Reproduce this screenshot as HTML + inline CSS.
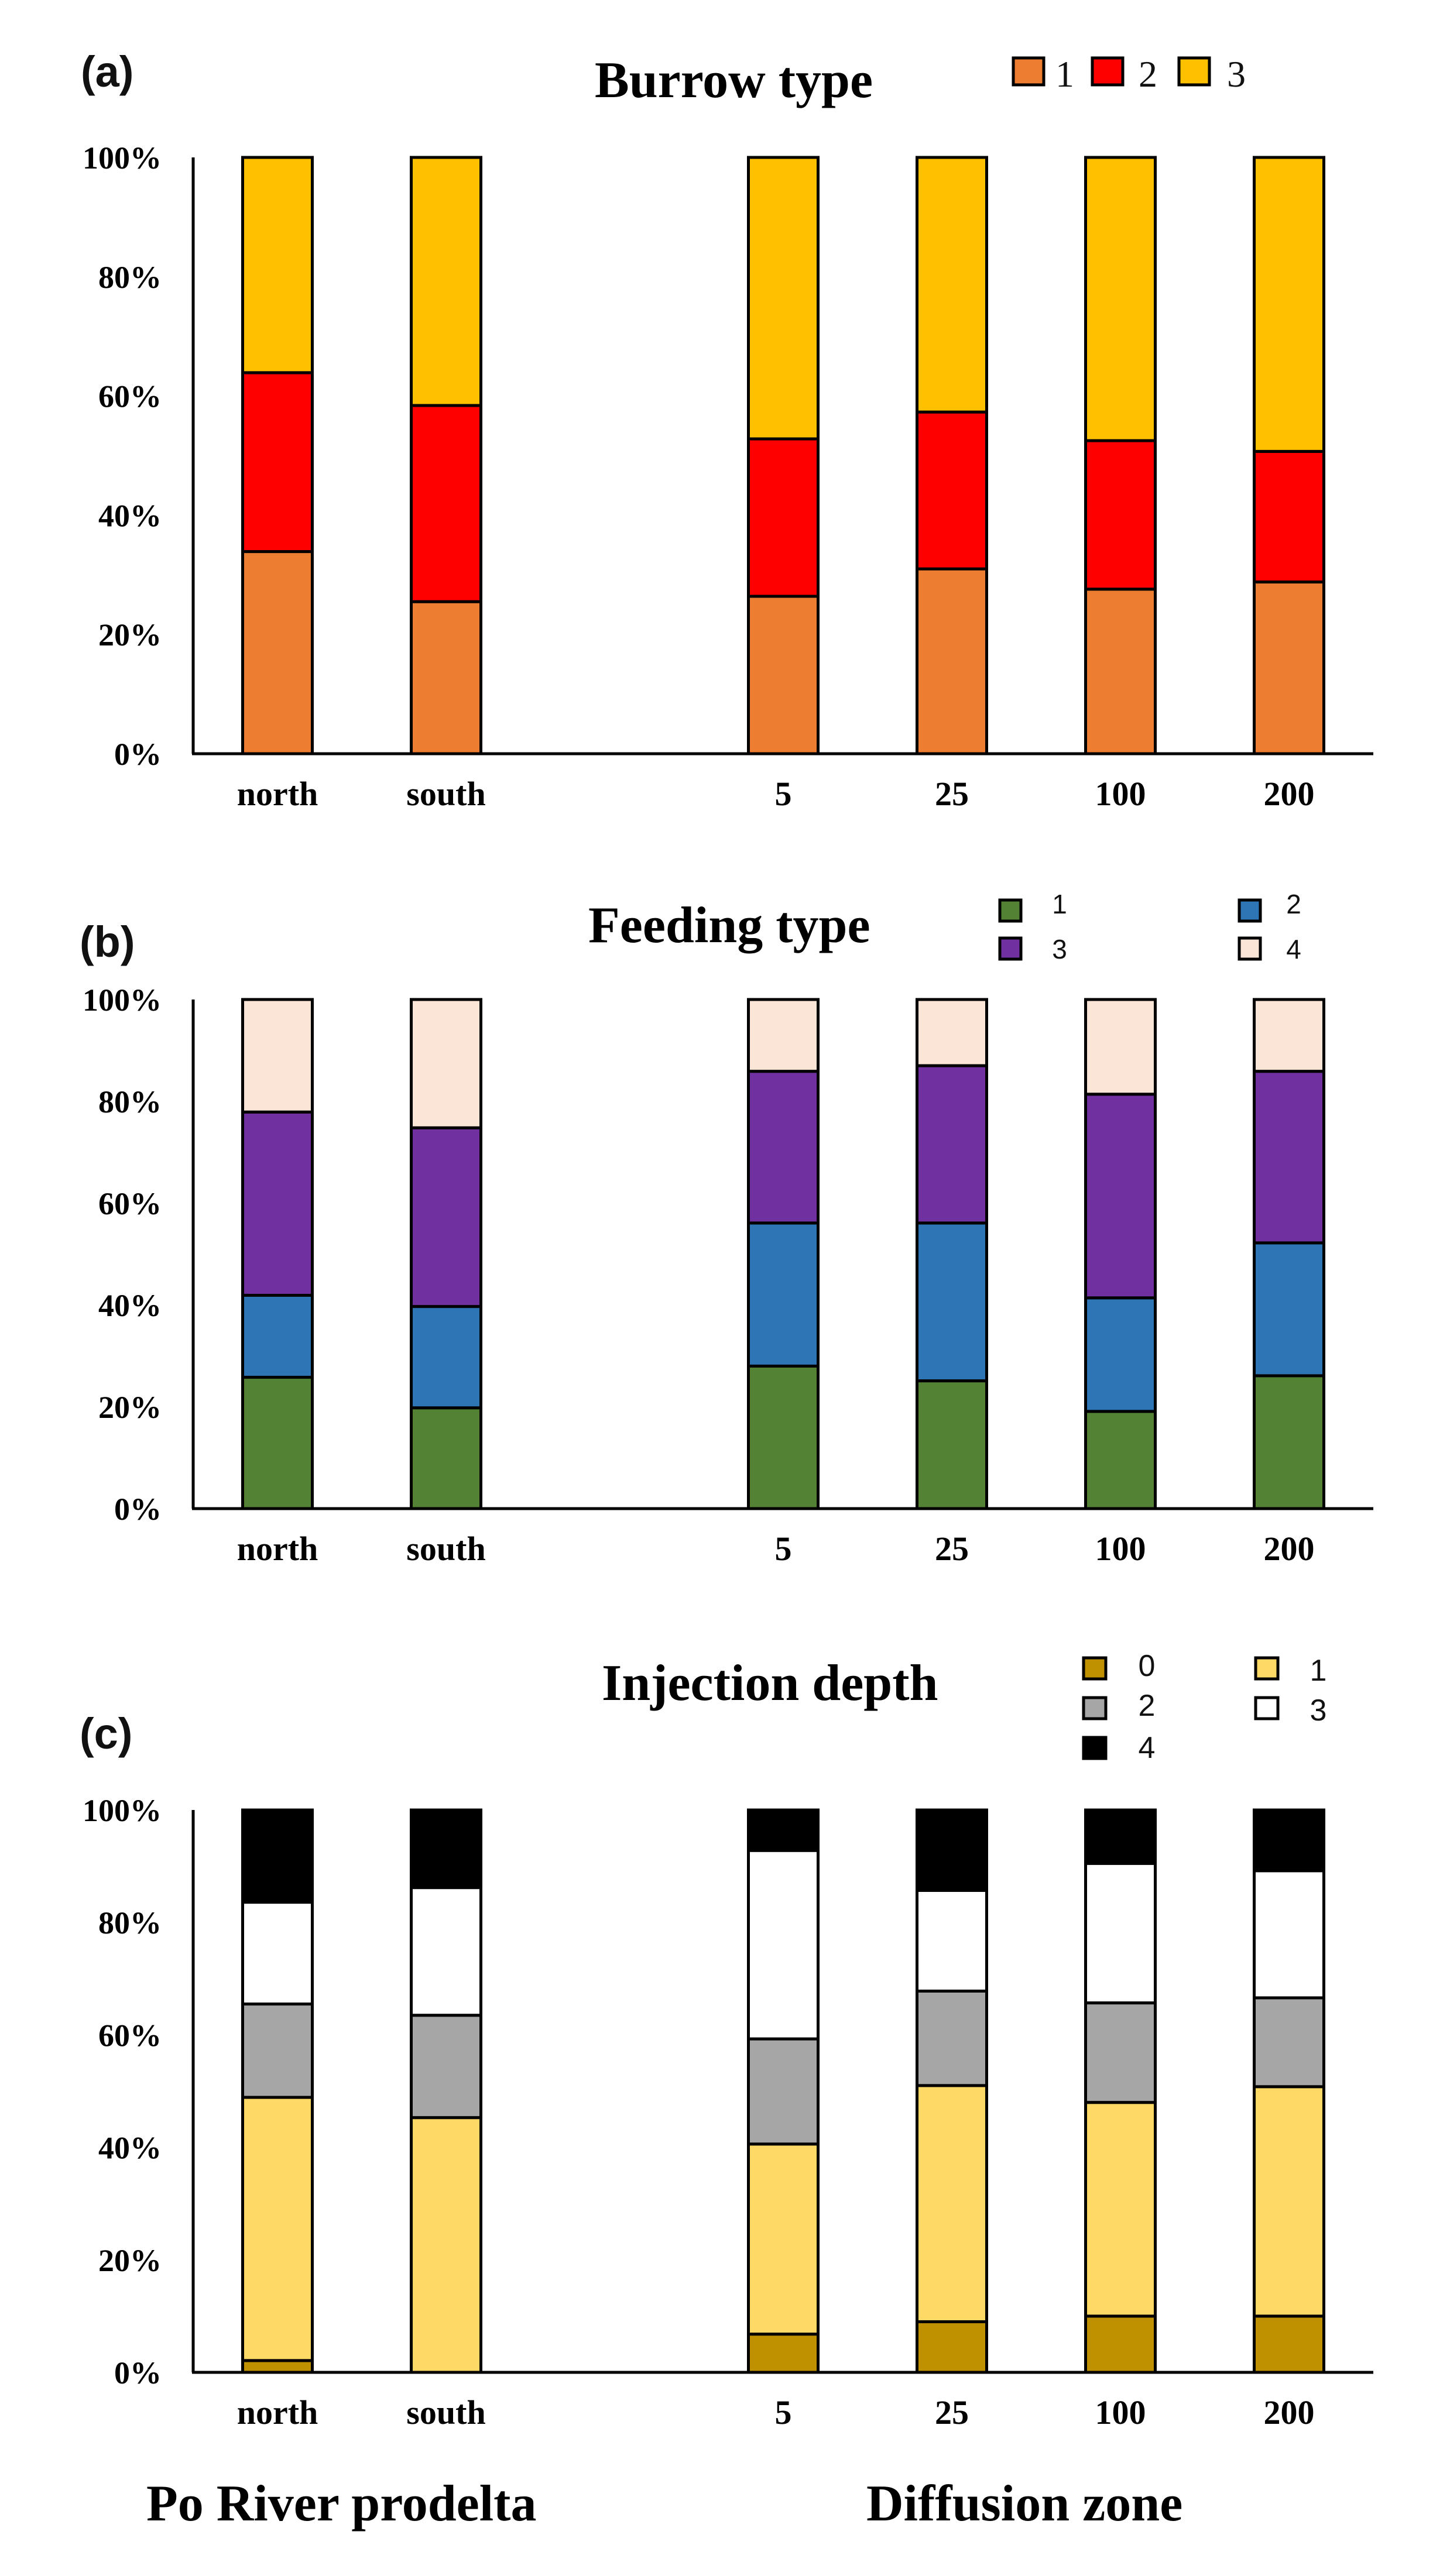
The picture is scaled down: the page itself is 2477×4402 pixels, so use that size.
<!DOCTYPE html>
<html><head><meta charset="utf-8">
<style>
html,body{margin:0;padding:0;background:#fff;}
svg{display:block;}
</style></head>
<body>
<svg id="fig" xmlns="http://www.w3.org/2000/svg" width="2477" height="4402" viewBox="0 0 2477 4402">
<rect x="0" y="0" width="2477" height="4402" fill="#fff"/>
<g font-family="'Liberation Sans', sans-serif" font-weight="bold" font-size="74" fill="#111">
<text x="138" y="148">(a)</text>
<text x="136" y="1635">(b)</text>
<text x="136" y="2988">(c)</text>
</g>
<g font-family="'Liberation Serif', serif" font-weight="bold" font-size="88" fill="#000">
<text x="1016" y="166">Burrow type</text>
<text x="1005" y="1610">Feeding type</text>
<text x="1028" y="2905">Injection depth</text>
<text x="250" y="4307">Po River prodelta</text>
<text x="1480" y="4307">Diffusion zone</text>
</g>
<g id="charts"></g>
</svg>
<script>
// shared categories
const categories = ["north", "south", "", "5", "25", "100", "200"];
const yTicks = [0, 20, 40, 60, 80, 100];
const yTickLabels = ["0%", "20%", "40%", "60%", "80%", "100%"];

// (a) Burrow type — percentages per class
const burrowLabels = ["1", "2", "3"];
const burrow1 = [33.9, 25.5, null, 26.4, 31.0, 27.6, 28.8];
const burrow2 = [30.0, 32.9, null, 26.4, 26.3, 24.9, 21.9];
const burrow3 = [36.1, 41.6, null, 47.2, 42.7, 47.5, 49.3];

// (b) Feeding type
const feedingLabels = ["1", "2", "3", "4"];
const feeding1 = [25.8, 19.8, null, 28.0, 25.1, 19.1, 26.1];
const feeding2 = [16.1, 19.9, null, 28.1, 31.0, 22.3, 26.1];
const feeding3 = [36.0, 35.1, null, 29.8, 30.9, 40.0, 33.7];
const feeding4 = [22.1, 25.2, null, 14.1, 13.0, 18.6, 14.1];

// (c) Injection depth
const injectionLabels = ["0", "1", "2", "3", "4"];
const injection0 = [2.1, 0.0, null, 6.8, 9.0, 10.0, 10.0];
const injection1 = [46.8, 45.3, null, 33.8, 42.0, 38.0, 40.8];
const injection2 = [16.6, 18.2, null, 18.7, 16.8, 17.7, 15.8];
const injection3 = [18.1, 22.7, null, 33.5, 17.9, 24.8, 22.6];
const injection4 = [16.4, 13.8, null, 7.2, 14.3, 9.5, 10.8];

const NS = "http://www.w3.org/2000/svg";
const root = document.getElementById("charts");
function mk(tag, attrs, parent) {
  const el = document.createElementNS(NS, tag);
  for (const k in attrs) el.setAttribute(k, attrs[k]);
  parent.appendChild(el);
  return el;
}

const panels = [
  { key: "burrow", top: 269, bottom: 1288, series: [burrow1, burrow2, burrow3], labels: burrowLabels,
    colors: ["#ED7D31", "#FF0000", "#FFC000"],
    legend: { type: "serif", pos: [[1731, 99], [1866, 99], [2014, 99]], lab: [[1819, 148], [1961, 148], [2112, 148]], w: 52, h: 46, fs: 64 } },
  { key: "feeding", top: 1708, bottom: 2578, series: [feeding1, feeding2, feeding3, feeding4], labels: feedingLabels,
    colors: ["#548235", "#2E75B6", "#7030A0", "#FBE5D6"],
    legend: { type: "sans", pos: [[1708, 1538], [2117, 1538], [1708, 1603], [2117, 1603]], lab: [[1810, 1561], [2210, 1561], [1810, 1638], [2210, 1638]], w: 36, h: 36, fs: 46 } },
  { key: "injection", top: 3093, bottom: 4054, series: [injection0, injection1, injection2, injection3, injection4], labels: injectionLabels,
    colors: ["#BF9000", "#FFD966", "#A6A6A6", "#FFFFFF", "#000000"],
    legend: { type: "sans", pos: [[1851, 2833], [2145, 2833], [1851, 2901], [2145, 2901], [1851, 2969]], lab: [[1959, 2864], [2252, 2872], [1959, 2932], [2252, 2940], [1959, 3004]], w: 38, h: 36, fs: 52 } }
];

const axisLeft = 330, slot = 288, barW = 119;
const xCenter = i => axisLeft + slot / 2 + i * slot;

panels.forEach(p => {
  const g = mk("g", {}, root);
  
  
  const yScale = v => p.bottom - (v / 100) * (p.bottom - p.top);

  // bars
  categories.forEach((c, i) => {
    if (c === "") return;
    let cum = 0;
    p.series.forEach((s, k) => {
      const v = s[i];
      if (v == null || v <= 0) { return; }
      const y1 = yScale(cum + v), y0 = yScale(cum);
      const r = mk("rect", { x: xCenter(i) - barW / 2, y: y1, width: barW, height: y0 - y1, fill: p.colors[k], stroke: "#000", "stroke-width": 5 }, g);
      
      
      cum += v;
    });
  });

  // axes
  const ya = mk("line", { x1: axisLeft, y1: p.top, x2: axisLeft, y2: p.bottom, stroke: "#000", "stroke-width": 5 }, g);
  
  
  const xa = mk("line", { x1: axisLeft - 2, y1: p.bottom, x2: axisLeft + 7 * slot, y2: p.bottom, stroke: "#000", "stroke-width": 5 }, g);
  
  

  // y tick labels
  yTicks.forEach((t, j) => {
    const tx = mk("text", { x: 276, y: yScale(t) + 19, "text-anchor": "end", "font-family": "'Liberation Serif', serif", "font-weight": "bold", "font-size": 54 }, g);
    tx.textContent = yTickLabels[j];
    
    
  });

  // category labels
  categories.forEach((c, i) => {
    if (c === "") return;
    const tx = mk("text", { x: xCenter(i), y: p.bottom + 88, "text-anchor": "middle", "font-family": "'Liberation Serif', serif", "font-weight": "bold", "font-size": 58 }, g);
    tx.textContent = c;
    
    
  });

  // legend
  const L = p.legend;
  p.labels.forEach((lb, k) => {
    const sw = mk("rect", { x: L.pos[k][0], y: L.pos[k][1], width: L.w, height: L.h, fill: p.colors[k], stroke: "#000", "stroke-width": 5 }, g);
    
    
    const tx = mk("text", { x: L.lab[k][0], y: L.lab[k][1], "text-anchor": "middle",
      "font-family": L.type === "serif" ? "'Liberation Serif', serif" : "'Liberation Sans', sans-serif",
      "font-size": L.fs, fill: "#111" }, g);
    tx.textContent = lb;
    
    
  });
});
</script>
</body></html>
